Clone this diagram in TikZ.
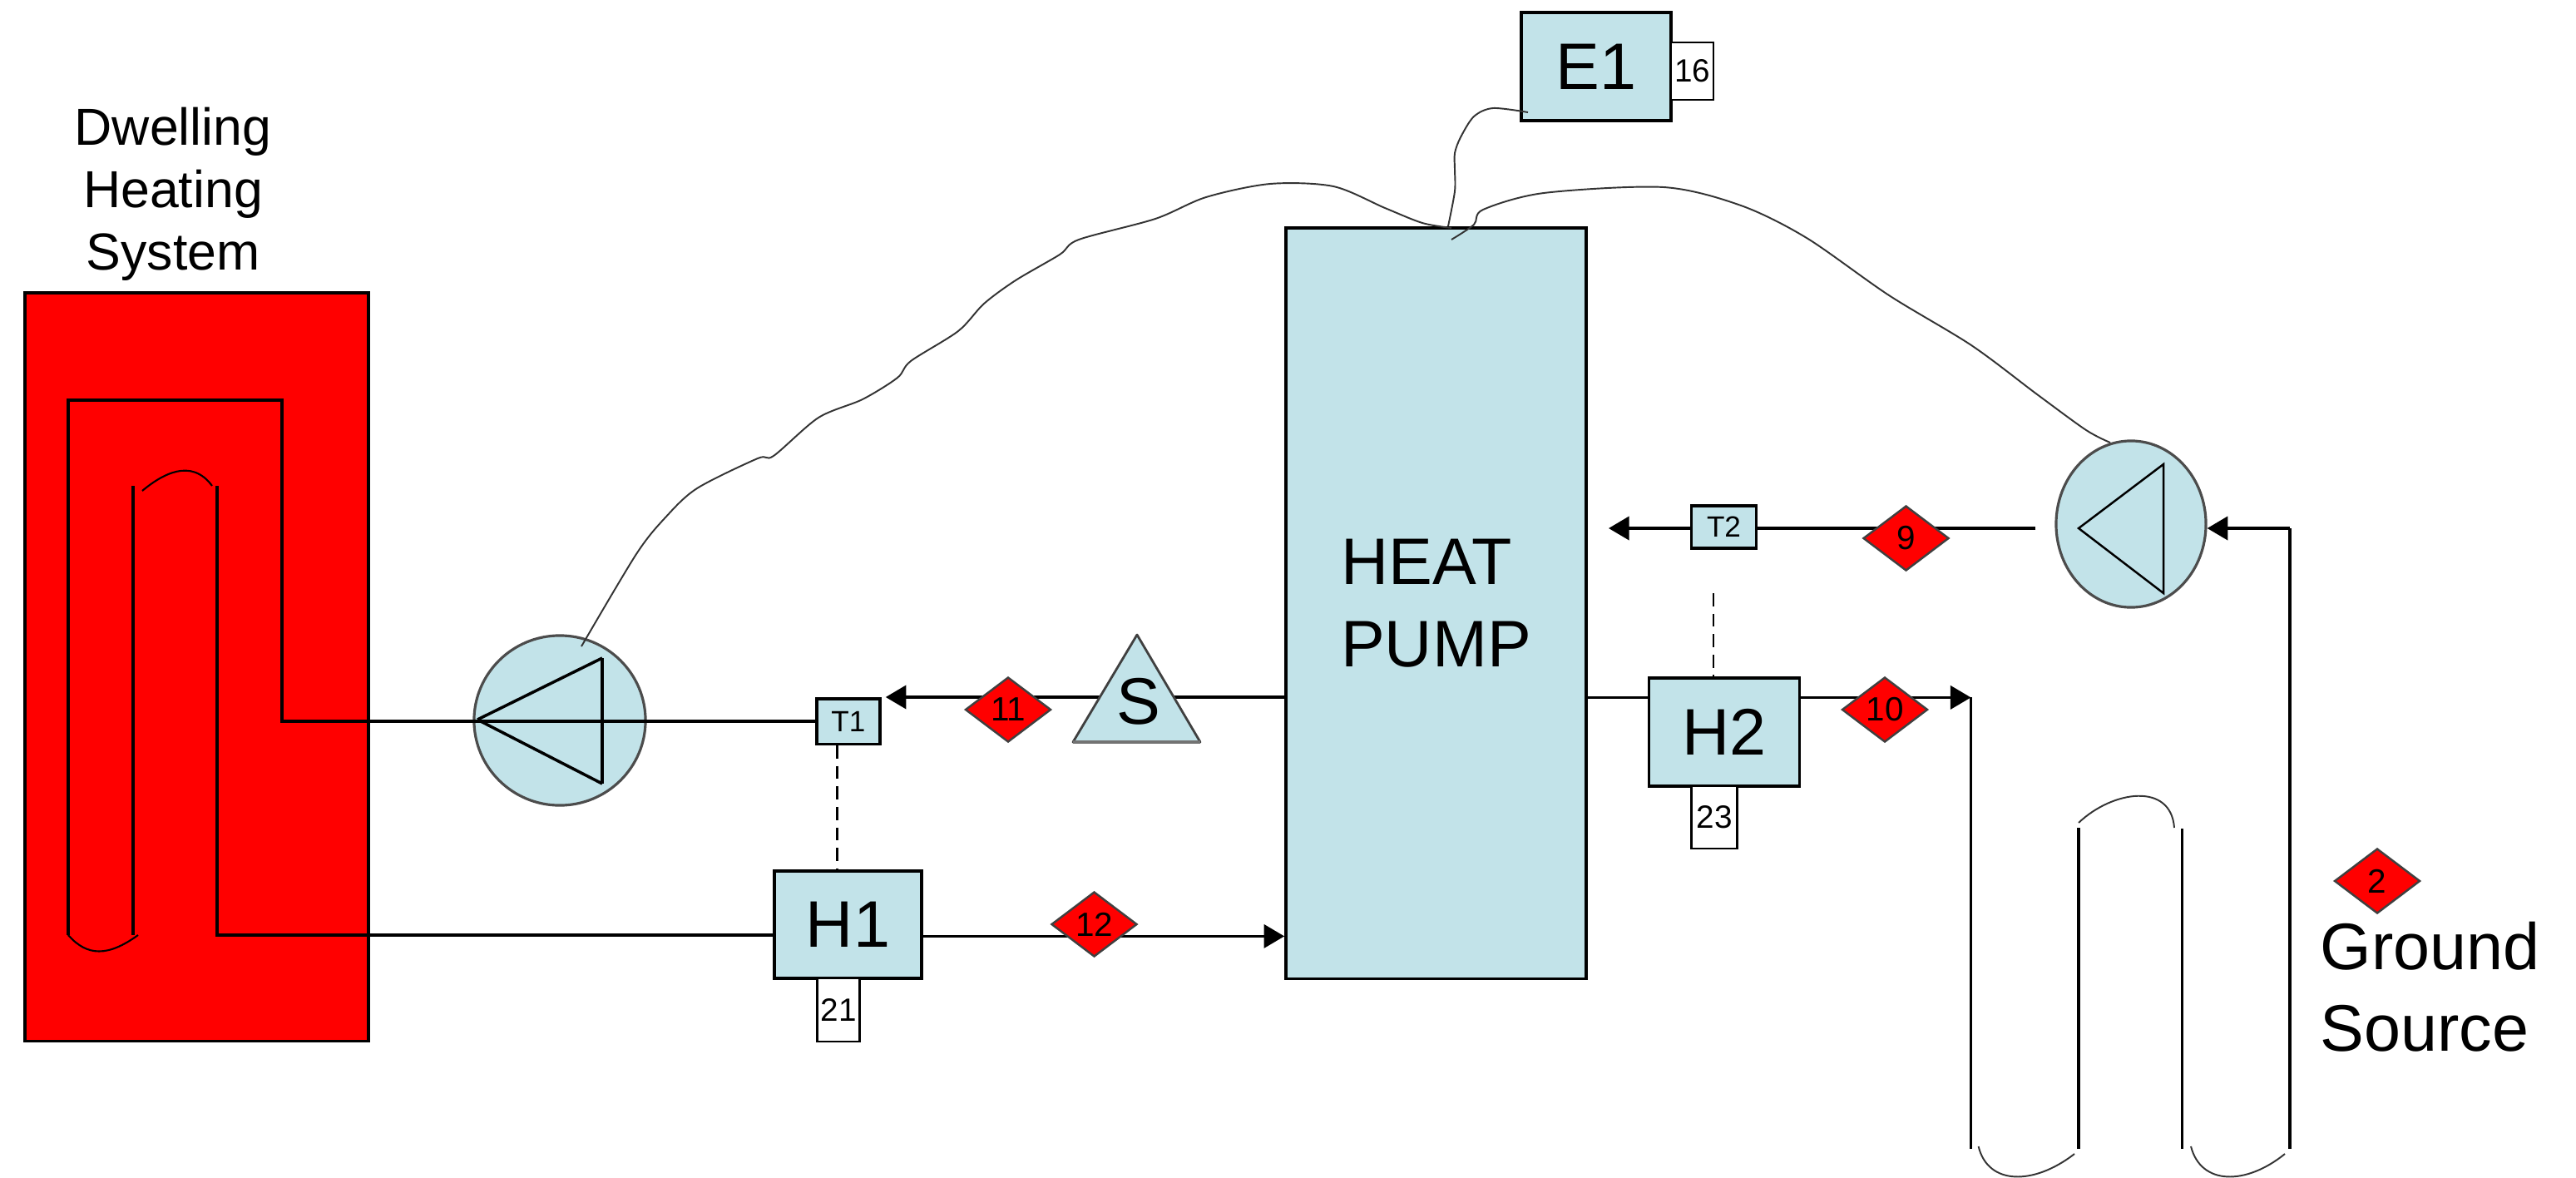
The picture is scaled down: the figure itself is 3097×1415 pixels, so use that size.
\documentclass[tikz,border=0pt]{standalone}
\usepackage{fontspec}
\setmainfont{Liberation Sans}
\usepackage{xcolor}
\usepackage{tikz}
\usetikzlibrary{shapes.geometric, arrows.meta, backgrounds}

\definecolor{paleblue}{HTML}{C2E3E9}
\tikzset{
	box/.style={draw, line width=1pt, fill=paleblue, inner sep=0pt},
	tag/.style={draw, line width=0.8pt, fill=white, inner sep=0pt, font=\fontsize{11}{13}\selectfont},
	sensor/.style={box, font=\fontsize{10}{12}\selectfont},
	marker/.style={diamond, draw=black!75, line width=0.7pt, fill=red, inner sep=0pt, minimum width=1.03cm, minimum height=0.78cm, font=\fontsize{11.5}{14}\selectfont},
	pumpbody/.style={ellipse, draw=black!70, line width=0.9pt, fill=paleblue, inner sep=0pt},
	bigtext/.style={font=\fontsize{22.5}{28}\selectfont},
	pipe/.style={line width=1pt},
	flow/.style={pipe, -{Triangle[length=7pt,width=8pt]}},
	wire/.style={line width=0.55pt, black!80},
	link/.style={line width=0.6pt, dash pattern=on 4.5pt off 2.5pt}
}

\begin{document}
\begin{tikzpicture}[x=0.01cm, y=-0.01cm]
	\useasboundingbox (0,0) rectangle (3097,1415);

	\node[draw, line width=1pt, fill=red, inner sep=0pt, minimum width=4.13cm, minimum height=8.99cm] (dwelling) at (236.5,801.5) {};
	\node[align=center, font=\fontsize{17.8}{21.3}\selectfont] (dwellinglabel) at (208,233) {Dwelling\\Heating\\System};

	\node[box, minimum width=3.61cm, minimum height=9.02cm, bigtext, align=left] (HP) at (1726.5,725) {HEAT\\PUMP};
	\node[box, minimum width=1.80cm, minimum height=1.30cm, bigtext] (E1) at (1919,80) {E1};
	\node[tag, minimum width=0.51cm, minimum height=0.69cm] (tagE) at (2034.5,85.5) {16};
	\node[box, minimum width=1.77cm, minimum height=1.29cm, bigtext] (H1) at (1019.5,1111.5) {H1};
	\node[tag, minimum width=0.515cm, minimum height=0.76cm] (tagA) at (1008,1214) {21\hspace{3pt}};
	\node[box, minimum width=1.805cm, minimum height=1.30cm, bigtext] (H2) at (2073,880) {H2};
	\node[tag, minimum width=0.55cm, minimum height=0.75cm] (tagB) at (2061,982.5) {23\hspace{3pt}};
	\node[sensor, minimum width=0.755cm, minimum height=0.545cm] (T1) at (1020,867) {T1};
	\node[sensor, minimum width=0.78cm, minimum height=0.51cm] (T2) at (2072.5,633.5) {T2};

	\node[pumpbody, minimum width=2.06cm, minimum height=2.04cm] (pumpA) at (673,866) {};
	\node[pumpbody, minimum width=1.80cm, minimum height=2.00cm] (pumpB) at (2562,630) {};

	\draw[line width=0.8pt, line join=round, fill=paleblue, draw=black!75] (1367,763) -- (1443,892) -- (1290,892) -- cycle;
	\draw[line width=1.4pt, black!55] (1290,892) -- (1443,892);
	\node[bigtext] (S) at (1369,843) {S};

	\foreach \x/\y/\name/\label in {
		1212/853/mkA/11,
		1315.5/1111/mkB/12,
		2291.5/647/mkC/9,
		2266/853/mkD/10,
		2858/1059/mkE/2
	}{
		\node[marker] (\name) at (\x,\y) {\label};
	}

	\node[bigtext, align=left, anchor=west, inner sep=0pt] (groundlabel) at (2789,1186) {Ground\\Source};

	\coordinate (pipeB) at (2447,635);
	\coordinate (tipB) at (1934,635);
	\coordinate (groundtop) at (2753,635);
	\coordinate (groundin) at (2369.5,838.4);
	\coordinate (linkB) at (2060,713);
	\coordinate (HPjoin) at (1745,274);

	\begin{scope}[on background layer]
		\draw[flow, shorten >=1.5pt] (HP.west |- T1.north east) -- (T1.north east);
		\draw[flow] (H1.east |- 0,1125.4) -- (HP.west |- 0,1125.4);
		\draw[pipe] (pipeB) -- (T2.east |- pipeB);
		\draw[flow] (T2.west |- tipB) -- (tipB);
		\draw[pipe] (HP.east |- 0,838.4) -- (H2.west |- 0,838.4);
		\draw[flow] (H2.east |- groundin) -- (groundin);
	\end{scope}

	\draw[flow] (groundtop) -- (pumpB.east |- groundtop);

	\draw[link] (T1.south -| 1006.5,0) -- (H1.north -| 1006.5,0);
	\draw[link] (linkB) -- (H2.north -| linkB);

	\draw[pipe, line join=miter] (T1.west) -- (339,867) -- (339,481) -- (82,481) -- (82,1124);
	\draw[pipe] (160,584) -- (160,1124);
	\draw[pipe] (H1.west |- 0,1124) -- (261,1124) -- (261,584);
	\draw[line width=0.6pt] (82,1124) .. controls (105,1150) and (130,1150) .. (166,1124);
	\draw[line width=0.6pt] (171,590) .. controls (195,570) and (230,550) .. (255,584);

	\draw[pipe, line join=miter] (574,865) -- (724,791);
	\draw[pipe] (574,865) -- (724,942);
	\draw[line width=1.3pt] (724,791) -- (724,942);

	\draw[line width=0.7pt] (2499,635) -- (2601,558) -- (2601,713) -- cycle;

	\draw[wire] plot[smooth] coordinates {(699,777) (765,666) (800,622) (838,587) (911,551) (930,548) (984,502) (1037,480) (1079,454) (1095,434) (1152,398) (1183,365) (1221,337) (1274,306) (1297,288) (1389,263) (1450,237) (1527,221) (1603,224) (1665,250) (1710,268) (HPjoin)};
	\draw[wire] plot[smooth] coordinates {(1837,135) (1795,130) (1772,140) (1756,165) (1749,184) (1749,204) (1749,230) (1741,272)};
	\draw[wire] plot[smooth] coordinates {(1745,288) (1772,270) (1783,252) (1856,232) (2000,225) (2093,247) (2172,286) (2271,355) (2370,415) (2449,474) (2508,517) (2537,532)};

	\draw[pipe] (groundin) -- (2369.5,1381);
	\draw[pipe] (2499,995) -- (2499,1381);
	\draw[pipe] (2623.6,996) -- (2623.6,1381);
	\draw[pipe] (groundtop) -- (2753,1381);
	\draw[wire] (2378.6,1378) .. controls (2390,1425) and (2445,1425) .. (2494,1387);
	\draw[wire] (2634,1378) .. controls (2646,1425) and (2700,1425) .. (2747,1387);
	\draw[wire] (2499,989) .. controls (2540,950) and (2610,940) .. (2614,995);
\end{tikzpicture}
\end{document}
